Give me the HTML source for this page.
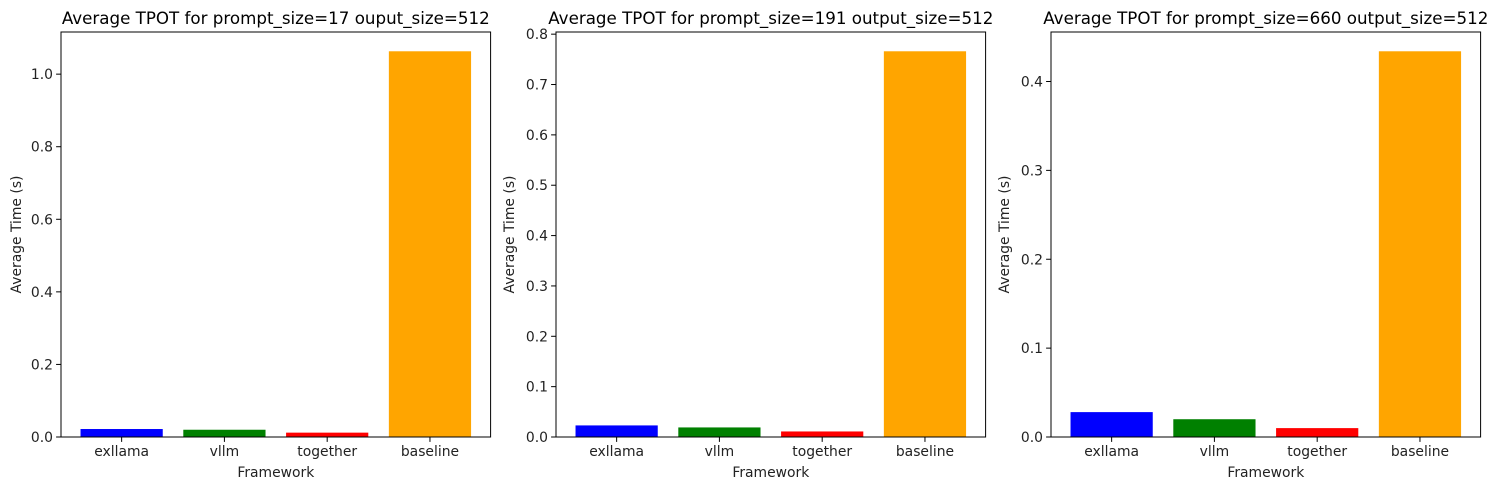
<!DOCTYPE html>
<html><head><meta charset="utf-8"><style>
body{margin:0;background:#fff}
svg{display:block;font-family:"DejaVu Sans","Liberation Sans",sans-serif}
</style></head><body>
<svg id="chart" width="1497" height="490"></svg>
<script>
const categories = ["exllama","vllm","together","baseline"];
const colors = ["blue","green","red","orange"];
const titles = ["Average TPOT for prompt_size=17 ouput_size=512","Average TPOT for prompt_size=191 output_size=512","Average TPOT for prompt_size=660 output_size=512"];
const values1 = [0.022,0.020,0.012,1.063];
const values2 = [0.023,0.019,0.011,0.766];
const values3 = [0.028,0.020,0.010,0.434];
const ticks1 = [0,0.2,0.4,0.6,0.8,1.0];
const ticks2 = [0,0.1,0.2,0.3,0.4,0.5,0.6,0.7,0.8];
const ticks3 = [0,0.1,0.2,0.3,0.4];
const panels = [
 {v:values1,t:ticks1,title:titles[0],left:61},
 {v:values2,t:ticks2,title:titles[1],left:556},
 {v:values3,t:ticks3,title:titles[2],left:1051}
];
const NS="http://www.w3.org/2000/svg";
const svgEl=document.getElementById('chart');
function mk(tag,attrs,parent,text){const e=document.createElementNS(NS,tag);for(const k in attrs)e.setAttribute(k,attrs[k]);if(text!==undefined)e.textContent=text;parent.appendChild(e);return e;}
const W=429.6, axTop=32, axBottom=437;
panels.forEach((p,pi)=>{
 const g=mk('g',{},svgEl);
 
 
 const ymax=Math.max(...p.v)*1.05;
 const y=v=>axBottom-(v/ymax)*(axBottom-axTop);
 const lo=-0.59, hi=3.59;
 const xs=i=>p.left+(i-lo)/(hi-lo)*W;
 const bw=0.8/(hi-lo)*W;
 p.v.forEach((v,i)=>{
  const r=mk('rect',{x:xs(i)-bw/2,y:y(v),width:bw,height:axBottom-y(v),fill:colors[i]},g);
  
  
  mk('line',{x1:xs(i),x2:xs(i),y1:axBottom,y2:axBottom+4.9,stroke:'#000','stroke-width':1},g);
  const t=mk('text',{x:xs(i),y:axBottom+19,'text-anchor':'middle','font-size':13.9,fill:'#222'},g,categories[i]);
  
  
 });
 p.t.forEach(tv=>{
  mk('line',{x1:p.left-4.9,x2:p.left,y1:y(tv),y2:y(tv),stroke:'#000','stroke-width':1},g);
  const t=mk('text',{x:p.left-8,y:y(tv)+5,'text-anchor':'end','font-size':13.9,fill:'#222'},g,tv.toFixed(1));
  
  
 });
 const fr=mk('rect',{x:p.left,y:axTop,width:W,height:axBottom-axTop,fill:'none',stroke:'#000','stroke-width':1},g);
 
 
 const tt=mk('text',{x:p.left+W/2,y:24,'text-anchor':'middle','font-size':16.7,fill:'#000'},g,p.title);
 
 
 const xl=mk('text',{x:p.left+W/2,y:477,'text-anchor':'middle','font-size':13.9,fill:'#222'},g,'Framework');
 
 
 const yl=mk('text',{x:0,y:0,'text-anchor':'middle','font-size':13.9,fill:'#222',transform:`translate(${p.left-(pi===0?40:42)},${(axTop+axBottom)/2}) rotate(-90)`},g,'Average Time (s)');
 
 
});
</script>
</body></html>
